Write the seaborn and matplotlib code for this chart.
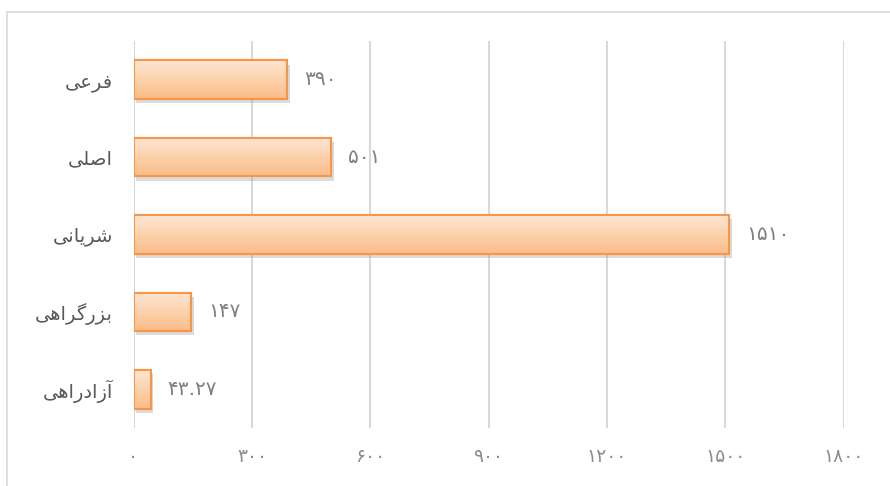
import numpy as np
import pandas as pd
import matplotlib
matplotlib.use("Agg")
import matplotlib.pyplot as plt
import matplotlib.patheffects as pe
from matplotlib.colors import LinearSegmentedColormap
from matplotlib.lines import Line2D
import seaborn as sns

# %% DATA
# category names already shaped (presentation forms, visual order) since matplotlib has no bidi shaping
categories = [
    "\uFBFD\uFECB\uFEAE\uFED3",                                  # فرعی
    "\uFBFD\uFEE0\uFEBB\uFE8D",                                  # اصلی
    "\uFBFD\uFEE7\uFE8E\uFBFE\uFEAE\uFEB7",                      # شریانی
    "\uFBFD\uFEEB\uFE8D\uFEAE\uFB94\uFEAD\uFEB0\uFE91",          # بزرگراهی
    "\uFBFD\uFEEB\uFE8D\uFEAD\uFEA9\uFE8D\uFEAF\uFE81",          # آزادراهی
]
values = [390, 501, 1510, 147, 43.27]
value_labels = ["۳۹۰", "۵۰۱", "۱۵۱۰", "۱۴۷", "۴۳.۲۷"]
ticks = [0, 300, 600, 900, 1200, 1500, 1800]
tick_labels = ["۰", "۳۰۰", "۶۰۰", "۹۰۰", "۱۲۰۰", "۱۵۰۰", "۱۸۰۰"]

df = pd.DataFrame({"cat": categories, "val": values})

# %% PLOT
sns.set_theme(style="white")
plt.rcParams["font.family"] = ["DejaVu Sans"]

fig = plt.figure(figsize=(8.9, 4.86), dpi=100)
ax = fig.add_axes([133.5 / 890, 1 - 428 / 486, (843.7 - 133.5) / 890, (428 - 41) / 486])

sns.barplot(data=df, x="val", y="cat", orient="h", width=0.5,
            color="#fcd0a8", edgecolor="#f79646", linewidth=1.5, ax=ax, zorder=3)

# gradient fill + soft shadow on each bar
grad = LinearSegmentedColormap.from_list("g", ["#fde6d3", "#fbbd87"])
for p in ax.patches:
    x0, y0 = p.get_x(), p.get_y()
    w, h = p.get_width(), p.get_height()
    p.set_path_effects([pe.SimplePatchShadow(offset=(2, -3), shadow_rgbFace="#8a8a8a", alpha=0.3),
                        pe.Normal()])
    im = ax.imshow(np.linspace(0, 1, 64).reshape(-1, 1), cmap=grad, aspect="auto",
                   extent=(x0, x0 + w, y0 + h, y0), zorder=3.5, interpolation="bilinear")
    im.set_clip_path(p)
    edge = plt.Rectangle((x0, y0), w, h, fill=False, edgecolor="#f79646", linewidth=1.5, zorder=4)
    ax.add_patch(edge)

ax.set_xlim(0, 1800)
ax.set_ylim(4.5, -0.5)
ax.set_aspect("auto")

for i, (v, lab) in enumerate(zip(values, value_labels)):
    ax.text(v + 42, i, lab, va="center", ha="left", fontsize=14.5, color="#7f7f7f")

ax.set_xticks(ticks)
ax.set_xticklabels(tick_labels, fontsize=13.5, color="#8c8c8c")
ax.tick_params(axis="x", length=0, pad=14)
ax.tick_params(axis="y", length=0, pad=15, labelsize=14, labelcolor="#595959")
ax.xaxis.grid(True, color="#d9d9d9", linewidth=1.5, zorder=0)
ax.set_axisbelow(True)
for s in ax.spines.values():
    s.set_visible(False)
ax.set_xlabel("")
ax.set_ylabel("")

# outer chart border (only left and top visible in the crop)
fig.add_artist(Line2D([7 / 890, 7 / 890], [0, 1 - 12.5 / 486], color="#d9d9d9", lw=1.2,
                      transform=fig.transFigure))
fig.add_artist(Line2D([7 / 890, 1], [1 - 12.5 / 486, 1 - 12.5 / 486], color="#d9d9d9", lw=1.2,
                      transform=fig.transFigure))

fig.savefig("out.png", dpi=100)
